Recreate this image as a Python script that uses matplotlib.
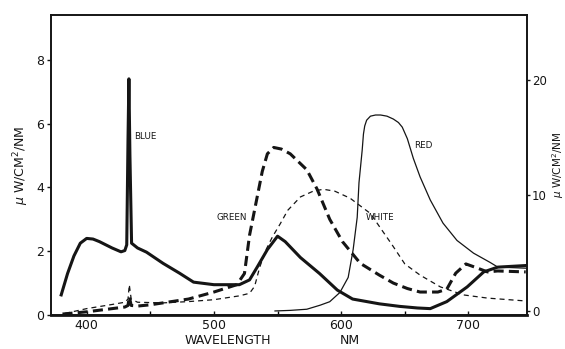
import numpy as np
import matplotlib
matplotlib.use("Agg")
import matplotlib.pyplot as plt

# blue lamp (thick solid, left axis)
blue_wl = [380, 385, 390, 395, 400, 405, 410, 420, 427, 430, 431.5, 432.5, 433.2, 434, 435.3,
           440, 447, 460, 473, 484, 500, 520, 528, 534, 542, 550, 556, 568, 583, 597, 609,
           630, 646, 660, 670, 683, 699, 712, 723, 745]
blue_val = [0.63, 1.3, 1.85, 2.25, 2.4, 2.38, 2.3, 2.1, 1.98, 2.02, 2.2, 5.5, 7.4, 5.0, 2.25,
            2.1, 1.97, 1.62, 1.31, 1.03, 0.95, 0.95, 1.1, 1.5, 2.05, 2.47, 2.3, 1.8, 1.3, 0.78, 0.5,
            0.35, 0.27, 0.22, 0.2, 0.42, 0.88, 1.35, 1.5, 1.55]

# green lamp (thick dashed, left axis)
green_wl = [381, 400, 420, 430, 432.5, 433.5, 435, 440, 450, 480, 500, 518, 524, 528, 533, 538,
            542, 547, 553, 560, 573, 581, 591, 601, 615, 630, 641, 652, 662, 676, 683, 690,
            698, 705, 715, 723, 745]
green_val = [0.03, 0.1, 0.2, 0.25, 0.3, 0.58, 0.3, 0.28, 0.32, 0.5, 0.72, 0.95, 1.3, 2.5, 3.5, 4.5,
             5.05, 5.25, 5.2, 5.05, 4.55, 3.95, 3.0, 2.3, 1.62, 1.25, 1.0, 0.83, 0.72, 0.72, 0.81, 1.31,
             1.6, 1.5, 1.35, 1.38, 1.35]

# white lamp (thin dashed, left axis)
white_wl = [383, 400, 420, 430, 432.5, 433.5, 435, 440, 460, 480, 500, 520, 528, 532, 536, 541,
            546, 552, 558, 568, 578, 586, 595, 607, 623, 632, 640, 650, 662, 678, 696, 715, 745]
white_val = [0.05, 0.2, 0.33, 0.4, 0.5, 0.95, 0.5, 0.4, 0.38, 0.42, 0.48, 0.6, 0.68, 0.9, 1.5, 2.05,
             2.45, 2.85, 3.28, 3.7, 3.88, 3.94, 3.88, 3.66, 3.18, 2.66, 2.2, 1.6, 1.25, 0.88, 0.63, 0.53, 0.44]

# red lamp (thin solid, right axis)
red_wl = [548, 560, 573, 583.5, 591, 599, 605.5, 609.4, 612.6, 614, 616.5, 617.5, 618.5, 620, 623,
          627, 631, 636, 641, 645, 648, 652, 656.7, 662, 670, 680, 691, 704, 717, 723, 745]
red_val = [0.0, 0.05, 0.15, 0.5, 0.8, 1.6, 2.9, 5.3, 8.1, 11.1, 13.9, 15.3, 16.0, 16.5, 16.85,
           16.95, 16.95, 16.85, 16.6, 16.3, 15.9, 14.9, 13.2, 11.6, 9.6, 7.6, 6.1, 5.0, 4.2, 3.8, 3.7]

ink = "#151515"

fig = plt.figure(figsize=(5.65, 3.49), dpi=100)
ax = fig.add_axes([0.0903, 0.0974, 0.8424, 0.8596])
ax2 = ax.twinx()

ax.plot(blue_wl, blue_val, color=ink, lw=2.2, solid_joinstyle="round")
ax.plot(green_wl, green_val, color=ink, lw=2.2, dashes=(3.3, 1.7))
ax.plot(white_wl, white_val, color=ink, lw=0.9, dashes=(4, 3.2))
ax2.plot(red_wl, red_val, color=ink, lw=0.9, solid_joinstyle="round")

ax.set_xlim(372, 746)
ax.set_ylim(0, 9.4)
ax2.set_ylim(-0.35, 25.6)

ax.set_xticks([400, 500, 600, 700])
ax.set_xticks([450, 550, 650], minor=True)
ax.set_yticks([0, 2, 4, 6, 8])
ax2.set_yticks([0, 10, 20])

for a in (ax, ax2):
    for s in a.spines.values():
        s.set_linewidth(1.2)
        s.set_color(ink)
ax.spines["bottom"].set_linewidth(2)

ax.tick_params(axis="x", direction="in", length=3, width=1, labelsize=9, colors=ink, pad=3)
ax.tick_params(axis="x", which="minor", direction="in", length=3, width=1)
ax.tick_params(axis="y", direction="out", length=3, width=1, labelsize=9, colors=ink, pad=2)
ax2.tick_params(axis="y", direction="out", length=2.5, width=1, labelsize=8.5, colors=ink, pad=1)

ax.set_ylabel("$\\mu$ W/CM$^2$/NM", fontsize=9, color=ink, labelpad=4)
ax2.set_ylabel("$\\mu$ W/CM$^2$/NM", fontsize=7.5, color=ink, rotation=90, va="center")
ax2.yaxis.set_label_coords(1.066, 0.5)
fig.text(0.404, 0.006, "WAVELENGTH", fontsize=9, color=ink, ha="center", va="bottom")
fig.text(0.62, 0.006, "NM", fontsize=9, color=ink, ha="center", va="bottom")

lab = dict(fontsize=6.3, color=ink, ha="left", va="center")
ax.text(437.5, 5.6, "BLUE", **lab)
ax.text(502, 3.05, "GREEN", **lab)
ax.text(619, 3.05, "WHITE", **lab)
ax.text(657, 5.3, "RED", **lab)

fig.savefig("out.png", dpi=100)
